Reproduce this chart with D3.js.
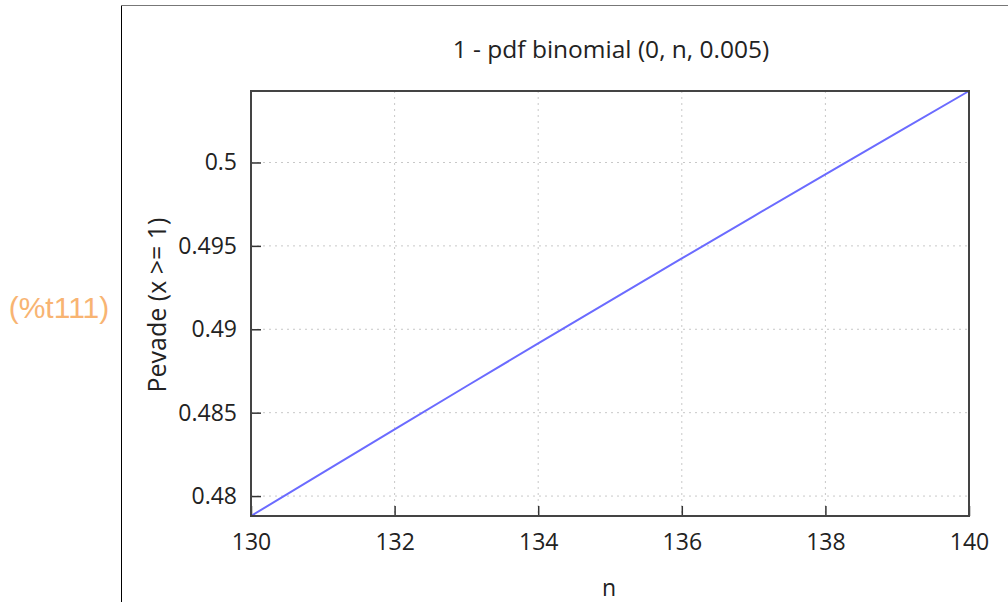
<!DOCTYPE html>
<html><head><meta charset="utf-8">
<script src="https://cdn.jsdelivr.net/npm/d3@7"></script>
<style>body{margin:0;background:#fff;}svg{display:block;}</style>
</head><body>
<svg id="c" width="1008" height="602"></svg>
<script>
const nValues = [130,131,132,133,134,135,136,137,138,139,140];
const pValues = [0.478805,0.481411,0.484004,0.486584,0.489151,0.491705,0.494246,0.496775,0.499291,0.501795,0.504286];
const xTicks = [130,132,134,136,138,140];
const yTicks = [0.48,0.485,0.49,0.495,0.5];
const yTickLabels = ["0.48","0.485","0.49","0.495","0.5"];
const titleText = "1 - pdf binomial (0, n, 0.005)";
const xLabel = "n";
const yLabel = "Pevade (x >= 1)";
const cellLabel = "(%t111)";

const svg = d3.select("#c");
const L=251, R=969, T=91, B=516;
const font = "Open Sans, sans-serif";
const x = d3.scaleLinear().domain([130,140]).range([L,R]);
const y = d3.scaleLinear().domain([d3.min(pValues), d3.max(pValues)]).range([B,T]);

// cell frame
svg.append("line").attr("x1",121.5).attr("x2",121.5).attr("y1",5).attr("y2",602).attr("stroke","#000").attr("stroke-width",1);
svg.append("line").attr("x1",121).attr("x2",1008).attr("y1",5.5).attr("y2",5.5).attr("stroke","#777").attr("stroke-width",1);

svg.append("text").attr("x",59).attr("y",318).attr("text-anchor","middle")
  .attr("font-family","Liberation Sans, Arial, sans-serif").attr("font-size",30).attr("fill","#f8b472").text(cellLabel);

// grid
const g = svg.append("g");
g.selectAll(".gx").data(xTicks.slice(1,-1)).enter().append("line")
  .attr("x1",d=>x(d)).attr("x2",d=>x(d)).attr("y1",T).attr("y2",B)
  .attr("stroke","#c8c8c8").attr("stroke-dasharray","2,4");
g.selectAll(".gy").data(yTicks).enter().append("line")
  .attr("x1",L).attr("x2",R).attr("y1",d=>y(d)).attr("y2",d=>y(d))
  .attr("stroke","#c8c8c8").attr("stroke-dasharray","2,4");

// axes
const xAxis = d3.axisBottom(x).tickValues(xTicks).tickSize(-10).tickPadding(18).tickFormat(d3.format("d"));
const ya = d3.axisLeft(y).tickValues(yTicks).tickSize(-10).tickPadding(14).tickFormat((d,i)=>yTickLabels[i]);
const gx = svg.append("g").attr("transform",`translate(0,${B})`).call(xAxis);
const gy = svg.append("g").attr("transform",`translate(${L},0)`).call(ya);
[gx,gy].forEach(a=>{
  a.select(".domain").remove();
  a.selectAll("line").attr("stroke","#333").attr("stroke-width",1.5);
  a.selectAll("text").attr("font-family",font).attr("font-size",23).attr("fill","#222");
});

// line
svg.append("path").datum(nValues.map((n,i)=>[n,pValues[i]]))
  .attr("d",d3.line().x(d=>x(d[0])).y(d=>y(d[1])))
  .attr("fill","none").attr("stroke","#6b6bff").attr("stroke-width",2);

// border
svg.append("rect").attr("x",L).attr("y",T).attr("width",R-L).attr("height",B-T)
  .attr("fill","none").attr("stroke","#444").attr("stroke-width",2);

svg.append("text").attr("x",611).attr("y",58).attr("text-anchor","middle")
  .attr("font-family",font).attr("font-size",24.5).attr("fill","#222").text(titleText);
svg.append("text").attr("x",609).attr("y",596).attr("text-anchor","middle")
  .attr("font-family",font).attr("font-size",23).attr("fill","#222").text(xLabel);
svg.append("text").attr("transform","translate(166,305) rotate(-90)").attr("text-anchor","middle")
  .attr("font-family",font).attr("font-size",25).attr("fill","#222").text(yLabel);
</script>
</body></html>
